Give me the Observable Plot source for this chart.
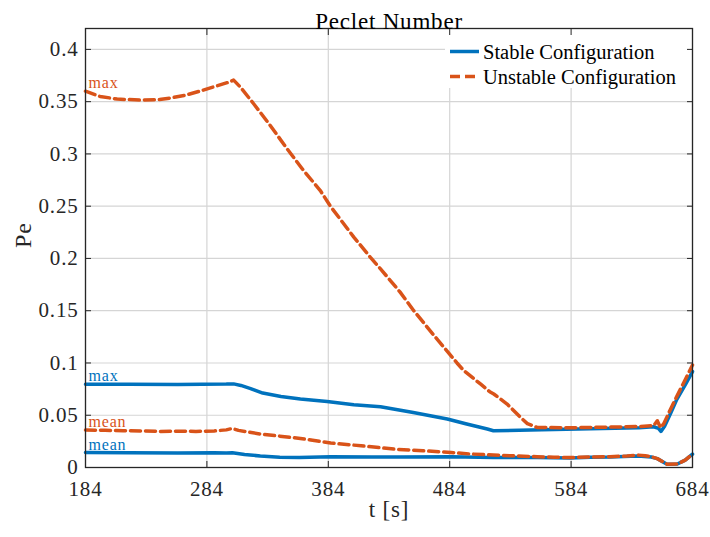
<!DOCTYPE html>
<html><head><meta charset="utf-8">
<script src="https://cdn.jsdelivr.net/npm/d3@7"></script>
<script src="https://cdn.jsdelivr.net/npm/@observablehq/plot@0.6"></script>
<style>
body{margin:0;background:#fff}
#chart{width:710px;height:537px}
</style>
</head><body><div id="chart"></div>
<script>
// ---- data ----
const title = "Peclet Number";
const xLabel = "t [s]";
const yLabel = "Pe";
const seriesNames = ["Stable Configuration", "Unstable Configuration"];
const xTicks = [184, 284, 384, 484, 584, 684];
const yTicks = [0, 0.05, 0.1, 0.15, 0.2, 0.25, 0.3, 0.35, 0.4];
const yTickLabels = ["0", "0.05", "0.1", "0.15", "0.2", "0.25", "0.3", "0.35", "0.4"];

const tStableMax = [184, 220, 260, 300, 306, 312, 320, 330, 345, 361, 383, 405, 427, 454, 482, 498, 515, 520, 560, 600, 640, 652, 656, 658, 661, 666, 671, 678, 684];
const stableMax  = [0.0797, 0.0796, 0.0795, 0.0798, 0.0800, 0.0785, 0.0755, 0.0712, 0.0680, 0.0655, 0.0632, 0.0600, 0.0582, 0.0527, 0.0464, 0.0416, 0.0368, 0.0352, 0.0360, 0.0370, 0.0380, 0.0390, 0.0375, 0.0345, 0.0395, 0.0520, 0.0650, 0.0790, 0.0917];

const tStableMean = [184, 220, 260, 290, 300, 305, 315, 328, 344, 360, 386, 420, 443, 485, 520, 556, 583, 600, 616, 639, 650, 655, 663, 671.5, 678, 684];
const stableMean  = [0.0144, 0.0142, 0.0138, 0.0140, 0.0138, 0.0142, 0.0125, 0.0110, 0.0098, 0.0096, 0.0102, 0.0100, 0.0100, 0.0103, 0.0096, 0.0096, 0.0092, 0.0098, 0.0100, 0.0110, 0.0100, 0.0085, 0.0032, 0.0033, 0.0070, 0.0128];

const tUnstableMax = [184, 196, 210, 229, 245, 254, 266, 278, 292, 303, 306, 311.5, 322.5, 336, 350, 363.7, 377.4, 385.7, 405, 418.7, 427, 443, 454.4, 472, 490, 495.6, 509.3, 517, 520.3, 531.3, 542.3, 548, 553.3, 556, 580, 610, 640, 652, 655, 657.7, 660.4, 666, 671.5, 678, 684];
const unstableMax  = [0.360, 0.355, 0.3525, 0.3515, 0.352, 0.3535, 0.356, 0.360, 0.365, 0.369, 0.3706, 0.364, 0.348, 0.3275, 0.305, 0.284, 0.265, 0.250, 0.2204, 0.201, 0.190, 0.168, 0.150, 0.125, 0.100, 0.0927, 0.0799, 0.0725, 0.0703, 0.0607, 0.048, 0.042, 0.0395, 0.0383, 0.0380, 0.0385, 0.0392, 0.0400, 0.0447, 0.0380, 0.0420, 0.0560, 0.0690, 0.0840, 0.0980];

const tUnstableMean = [184, 200, 215, 230, 245, 260, 275, 290, 300, 305, 310, 328, 344, 361, 386, 411, 438, 462, 485, 500, 520, 540, 556, 570, 583, 600, 616, 630, 639, 645, 650, 655, 663, 671.5, 678, 684];
const unstableMean  = [0.0358, 0.0356, 0.0352, 0.0350, 0.0345, 0.0348, 0.0345, 0.0350, 0.0360, 0.0374, 0.0355, 0.0320, 0.0300, 0.0278, 0.0234, 0.0208, 0.0176, 0.0160, 0.0144, 0.0130, 0.0119, 0.0110, 0.0103, 0.0098, 0.0096, 0.0100, 0.0103, 0.0110, 0.0119, 0.0112, 0.0103, 0.0085, 0.0032, 0.0033, 0.0070, 0.0128];

// ---- styling ----
const BLUE = "#0072BD", ORANGE = "#D95319", AXIS = "#262626", GRID = "#d5d5d5";
const FONT = "Liberation Serif, Times New Roman, serif";
const DASH = "10,5";
const LW = 3.5;

const series = [
  {name: seriesNames[0], kind: "max",  t: tStableMax,    v: stableMax},
  {name: seriesNames[0], kind: "mean", t: tStableMean,   v: stableMean},
  {name: seriesNames[1], kind: "max",  t: tUnstableMax,  v: unstableMax},
  {name: seriesNames[1], kind: "mean", t: tUnstableMean, v: unstableMean}
];
const rowsOf = name => series.filter(s => s.name === name)
  .flatMap(s => s.t.map((t, i) => ({key: s.kind, t, v: s.v[i]})));
const stableRows = rowsOf(seriesNames[0]);
const unstableRows = rowsOf(seriesNames[1]);
const labelRows = series.map(s => ({t: s.t[0], v: s.v[0], text: s.kind, color: s.name === seriesNames[0] ? BLUE : ORANGE}));

// legend as a custom mark (drawn beneath the frame and ticks)
function legendMark(index, scales, values, dims) {
  const right = dims.width - dims.marginRight;
  const top = dims.marginTop;
  const g = d3.create("svg:g");
  const x0 = right - 247;
  g.append("rect").attr("x", x0).attr("y", top + 1).attr("width", 246).attr("height", 59)
    .attr("fill", "white").attr("stroke", "none");
  const items = [{name: seriesNames[0], color: BLUE, dash: null}, {name: seriesNames[1], color: ORANGE, dash: DASH}];
  items.forEach((it, i) => {
    const cy = top + 23.5 + i * 25;
    g.append("line").attr("x1", x0 + 5).attr("x2", x0 + 34).attr("y1", cy).attr("y2", cy)
      .attr("stroke", it.color).attr("stroke-width", LW).attr("stroke-dasharray", it.dash);
    g.append("text").attr("x", x0 + 38).attr("y", cy + 7.5)
      .attr("text-anchor", "start").attr("font-size", 20.5)
      .style("letter-spacing", "0px").attr("fill", "#000").attr("font-family", FONT).text(it.name);
  });
  return g.node();
}

const txt = {fontFamily: FONT};
const chart = Plot.plot({
  width: 710, height: 537,
  marginLeft: 85, marginRight: 18, marginTop: 28, marginBottom: 70,
  x: {domain: [184, 684], axis: null},
  y: {domain: [0, 0.42], axis: null},
  style: {fontFamily: FONT, color: AXIS, background: "white", overflow: "visible"},
  marks: [
    Plot.gridX(xTicks, {stroke: GRID, strokeOpacity: 1, strokeWidth: 1.2}),
    Plot.gridY(yTicks, {stroke: GRID, strokeOpacity: 1, strokeWidth: 1.2}),
    Plot.line(stableRows, {x: "t", y: "v", z: "key", stroke: BLUE, strokeWidth: LW}),
    Plot.line(unstableRows, {x: "t", y: "v", z: "key", stroke: ORANGE, strokeWidth: LW, strokeDasharray: DASH}),
    Plot.text(labelRows, {...txt, x: "t", y: "v", text: "text", fill: "color", textAnchor: "start", dx: 3, dy: -8, fontSize: 16}),
    legendMark,
    Plot.frame({stroke: AXIS, strokeWidth: 1.3}),
    Plot.axisX(xTicks, {anchor: "bottom", tickSize: -6, tickFormat: () => "", label: null, stroke: AXIS}),
    Plot.axisX(xTicks, {anchor: "top", tickSize: -6, tickFormat: () => "", label: null, stroke: AXIS}),
    Plot.axisY(yTicks, {anchor: "left", tickSize: -6, tickFormat: () => "", label: null, stroke: AXIS}),
    Plot.axisY(yTicks, {anchor: "right", tickSize: -6, tickFormat: () => "", label: null, stroke: AXIS}),
    Plot.axisX(xTicks, {...txt, anchor: "bottom", tickSize: 0, tickPadding: 14, fontSize: 21, label: null, fill: AXIS}),
    Plot.axisY(yTicks, {...txt, anchor: "left", tickSize: 0, tickPadding: 7, fontSize: 21, label: null, fill: AXIS,
      tickFormat: d => yTickLabels[yTicks.indexOf(d)]}),
    Plot.text([title], {...txt, frameAnchor: "top", dy: -16, fontSize: 23, fill: "#000"}),
    Plot.text([xLabel], {...txt, frameAnchor: "bottom", dy: 49, fontSize: 23, fill: AXIS}),
    Plot.text([yLabel], {...txt, frameAnchor: "left", dx: -62, rotate: -90, fontSize: 24, fill: AXIS})
  ]
});
d3.select(chart).selectAll("text").filter(function () { return this.style.letterSpacing === ""; })
  .style("letter-spacing", "0.8px");
document.getElementById("chart").appendChild(chart);
</script>
</body></html>
